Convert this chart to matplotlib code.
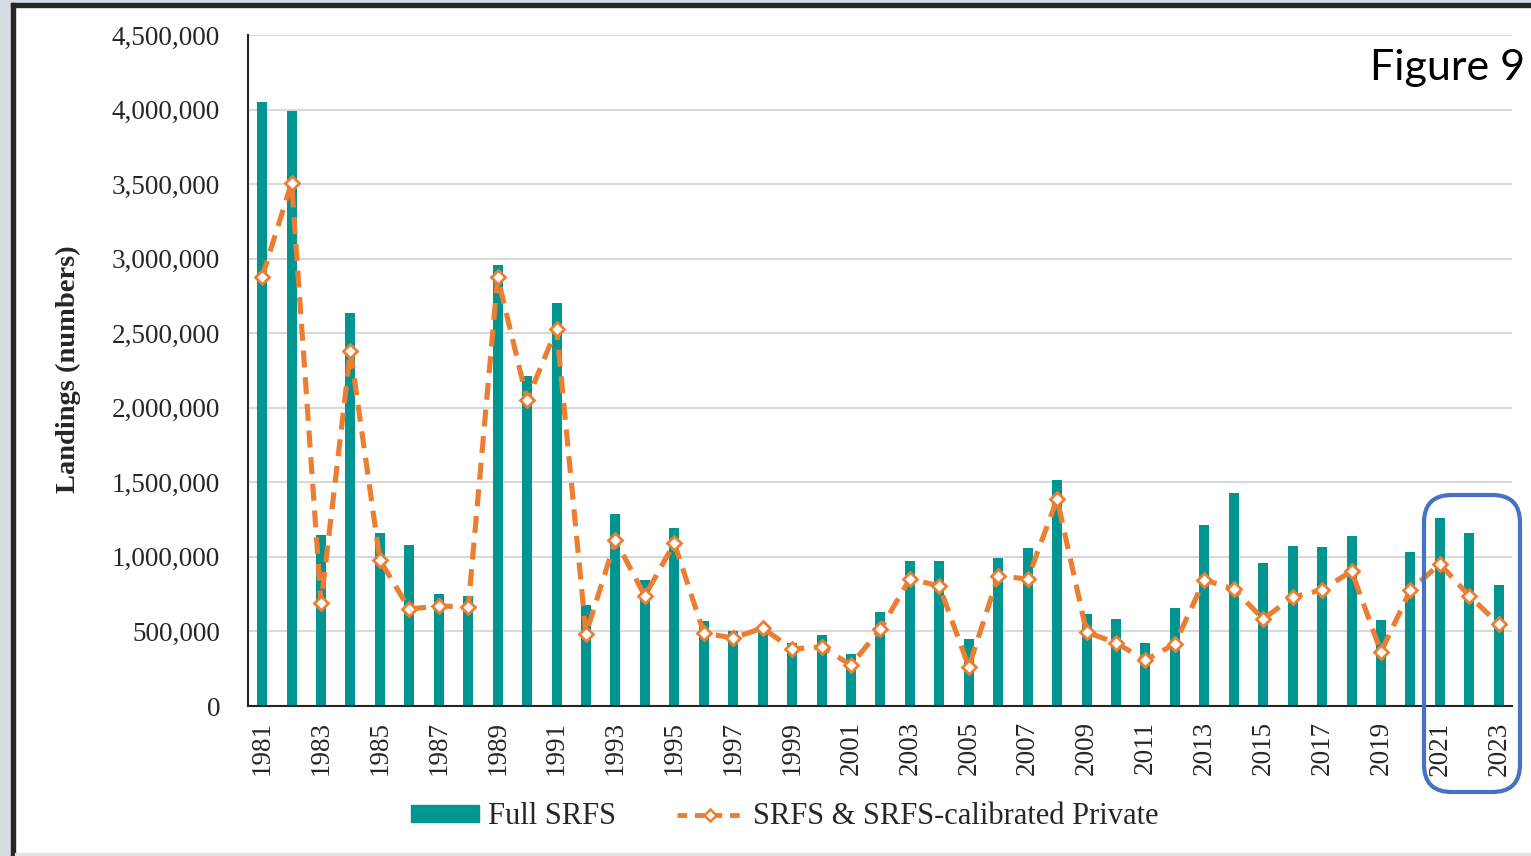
import matplotlib
matplotlib.use("Agg")
import matplotlib.pyplot as plt
from matplotlib.patches import Rectangle, FancyBboxPatch
from matplotlib.lines import Line2D
from matplotlib.ticker import FuncFormatter
import numpy as np

years = list(range(1981, 2024))
full_srfs = [4050000, 3990000, 1150000, 2635000, 1160000, 1080000, 750000, 735000,
             2960000, 2210000, 2700000, 680000, 1290000, 845000, 1195000, 570000,
             500000, 540000, 425000, 476000, 350000, 630000, 970000, 970000,
             450000, 995000, 1060000, 1516000, 617000, 583000, 425000, 657000,
             1214000, 1428000, 960000, 1075000, 1068000, 1142000, 577000, 1033000,
             1261000, 1160000, 811000]
calibrated = [2877000, 3510000, 691000, 2381000, 979000, 650000, 671000, 664000,
              2877000, 2052000, 2528000, 483000, 1113000, 738000, 1093000, 490000,
              456000, 523000, 382000, 396000, 275000, 516000, 852000, 805000,
              262000, 872000, 852000, 1388000, 496000, 423000, 308000, 416000,
              845000, 785000, 583000, 731000, 778000, 905000, 362000, 778000,
              952000, 738000, 550000]
yticks = [0, 500000, 1000000, 1500000, 2000000, 2500000, 3000000, 3500000, 4000000, 4500000]

W, H = 1531, 856
fig = plt.figure(figsize=(W / 100, H / 100), dpi=100)
fig.patch.set_facecolor("white")

serif = ["Liberation Serif", "DejaVu Serif"]
teal = "#009591"
orange = "#ED7D31"

# frame decorations
fig.patches.append(Rectangle((0, 0), 11 / W, 1, transform=fig.transFigure, color="#d6dce4", zorder=0))
fig.patches.append(Rectangle((0, 1 - 3 / H), 1, 3 / H, transform=fig.transFigure, color="#d6dce4", zorder=0))
fig.patches.append(Rectangle((11 / W, 0), 4 / W, 1 - 3 / H, transform=fig.transFigure, color="#262626", zorder=1))
fig.patches.append(Rectangle((11 / W, 1 - 7 / H), 1 - 11 / W, 4 / H, transform=fig.transFigure, color="#262626", zorder=1))
fig.patches.append(Rectangle((15 / W, 0), 1 - 15 / W, 3 / H, transform=fig.transFigure, color="#e3e3e3", zorder=1))

ax = fig.add_axes([248 / W, (H - 706) / H, (1512 - 248) / W, (706 - 35) / H])
x = np.arange(len(years))
ax.bar(x, full_srfs, width=0.34, color=teal, zorder=2)
ax.plot(x, calibrated, color=orange, lw=3.7, ls=(0, (3.3, 1.9)), marker="D", ms=7,
        mfc="white", mec=orange, mew=2.0, zorder=3)

ax.set_xlim(-0.48, 42.45)
ax.set_ylim(0, 4500000)
ax.set_yticks(yticks)
ax.yaxis.set_major_formatter(FuncFormatter(lambda v, p: f"{int(v):,}"))
ax.set_xticks(x[::2])
ax.set_xticklabels([str(y) for y in years[::2]], rotation=90)
ax.tick_params(axis="both", length=0, labelsize=19.5, colors="#262626")
ax.tick_params(axis="y", pad=20)
ax.tick_params(axis="x", pad=11)
for lab in ax.get_xticklabels() + ax.get_yticklabels():
    lab.set_family(serif)
ax.grid(axis="y", color="#d9d9d9", lw=1.5, zorder=0)
ax.set_axisbelow(True)
for s in ["top", "right"]:
    ax.spines[s].set_visible(False)
ax.spines["left"].set_color("#262626")
ax.spines["bottom"].set_color("#262626")
ax.spines["left"].set_linewidth(1.5)
ax.spines["bottom"].set_linewidth(1.5)

fig.text(68 / W, 1 - 369 / H, "Landings (numbers)", rotation=90, ha="center", va="center",
         family=serif, fontsize=20.5, fontweight="bold", color="#262626")

fig.text(1448 / W, 1 - 68 / H, "Figure 9", ha="center", va="center",
         family=["Lato", "DejaVu Sans"], fontsize=31, color="black")

handles = [Rectangle((0, 0), 1, 1, color=teal),
           Line2D([], [], color=orange, lw=3.5, ls=(0, (2.0, 1.6)), marker="D", ms=6.5,
                  mfc="white", mec=orange, mew=1.8)]
fig.legend(handles, ["Full SRFS", "SRFS & SRFS-calibrated Private"], loc="center",
           bbox_to_anchor=(785 / W, 1 - 817 / H), ncol=2, frameon=False,
           prop={"family": serif, "size": 22}, handlelength=2.2, handleheight=0.45,
           handletextpad=0.3, columnspacing=2.0, labelcolor="#262626")

# highlight box
box = FancyBboxPatch((1424 / W, 1 - 792 / H), (1520 - 1424) / W, (792 - 495) / H,
                     boxstyle="round,pad=0,rounding_size=0.018", transform=fig.transFigure,
                     fill=False, ec="#4472C4", lw=3, zorder=5, mutation_aspect=W / H)
fig.patches.append(box)

fig.savefig("out.png", dpi=100)
